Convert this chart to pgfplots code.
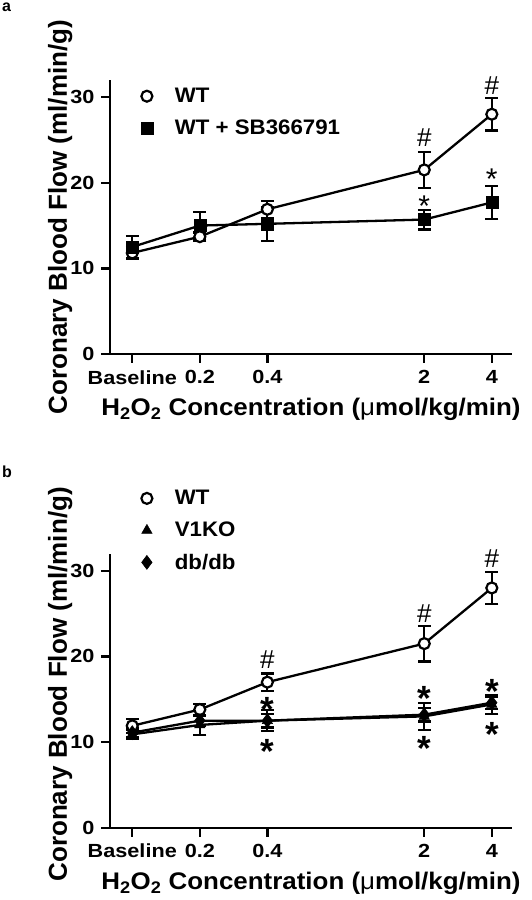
\documentclass[border=0pt]{standalone}
\usepackage{fontspec}
\setmainfont{Liberation Sans}
\newfontfamily\stretchA[FakeStretch=1.08]{Liberation Sans}
\newfontfamily\stretchB[FakeStretch=1.14]{Liberation Sans}
\newfontfamily\stretchC[FakeStretch=1.06]{Liberation Sans}
\usepackage{pgfplots}
\pgfplotsset{compat=1.18}
\pgfplotsset{
  legend image code/.code={\draw[#1] plot coordinates {(0pt,0pt)}; \path[draw=none, fill=none] (-8pt,-16pt) rectangle (28pt,16pt);},
  ser/.style={black, line width=2.3pt,
    error bars/y dir=both, error bars/y explicit,
    error bars/error bar style={line width=2.2pt, solid},
    error bars/error mark options={rotate=90, mark size=6.5pt, line width=2.2pt}},
  wt/.style={ser, mark=*, mark size=5.5pt, mark options={fill=white, draw=black, line width=2.2pt}},
  sq/.style={ser, mark=square*, mark size=6pt, mark options={fill=black, line width=0.5pt}},
  tri/.style={ser, mark=triangle*, mark size=6pt, mark options={fill=black, line width=0.5pt}},
  dia/.style={ser, mark=diamond*, mark size=7pt, mark options={fill=black, line width=0.5pt}},
  hash/.style={forget plot, only marks, mark=none, nodes near coords={\#},
    every node near coord/.append style={anchor=base, yshift=-9.3pt, inner sep=0pt,
      font=\fontsize{26}{26}\selectfont\mdseries}},
  stara/.style={forget plot, only marks, mark=none, nodes near coords={*},
    every node near coord/.append style={anchor=base, yshift=-17pt, inner sep=0pt,
      font=\fontsize{30}{30}\selectfont\mdseries}},
  starb/.style={forget plot, only marks, mark=none, nodes near coords={*},
    every node near coord/.append style={anchor=base, yshift=-20pt, inner sep=0pt,
      font=\fontsize{35}{35}\selectfont\bfseries}},
  panel/.style={
    scale only axis, width=402pt, height=274pt,
    xmin=0.0796, xmax=4.92, ymin=0, ymax=32,
    xtick={0.1,0.2,0.4,2,4}, xticklabels={Baseline,0.2,0.4,2,4},
    minor xtick={}, ytick={0,10,20,30},
    axis lines*=left, axis line style={line width=2.3pt},
    tick style={line width=2.3pt, black}, major tick length=9pt, tick align=outside,
    tick label style={font=\stretchB\fontsize{19}{20}\selectfont\bfseries},
    /pgf/number format/assume math mode=true,
    xticklabel style={yshift=-4pt},
    yticklabel style={xshift=-3pt},
    clip=false,
    xlabel={H\textsubscript{2}O\textsubscript{2} Concentration ({\mdseries μ}mol/kg/min)},
    ylabel={Coronary Blood Flow (ml/min/g)},
    every axis x label/.style={at={(axis description cs:0.5,-0.226)}, anchor=base,
      font=\stretchA\fontsize{24}{26}\selectfont\bfseries},
    every axis y label/.style={at={(axis description cs:-0.107,0.5)}, rotate=90, anchor=base,
      font=\fontsize{26}{28}\selectfont\bfseries},
    legend cell align=left,
    legend style={draw=none, fill=none, inner sep=0pt, row sep=0pt, column sep=0pt,
      font=\stretchC\fontsize{21}{23}\selectfont\bfseries, anchor=north west,
      nodes={inner sep=0pt}},
  },
}
\begin{document}
\begin{tikzpicture}
\useasboundingbox (0pt,0pt) rectangle (531pt,900pt);

% ---------- panel a ----------
\begin{semilogxaxis}[panel, at={(110pt,546pt)}, anchor=south west,
  legend style={at={(axis description cs:0.0714,1.0)}}]
\addplot[wt] coordinates {(0.1,11.8) +- (0,0.7) (0.2,13.7) +- (0,0.5) (0.4,16.9) +- (0,1.0) (2,21.5) +- (0,2.1) (4,28.0) +- (0,1.9)};
\addlegendentry{WT}
\addplot[sq] coordinates {(0.1,12.5) +- (0,1.3) (0.2,15.0) +- (0,1.6) (0.4,15.2) +- (0,2.0) (2,15.7) +- (0,1.15) (4,17.7) +- (0,1.9)};
\addlegendentry{WT + SB366791}
\addplot[hash] coordinates {(2,25.3) (4,31.4)};
\addplot[stara] coordinates {(2,18.0) (4,21.2)};
\end{semilogxaxis}

% ---------- panel b ----------
\begin{semilogxaxis}[panel, at={(110pt,72.3pt)}, anchor=south west,
  every axis y label/.append style={at={(axis description cs:-0.107,0.523)}},
  legend style={at={(axis description cs:0.0714,1.261)}}]
\addplot[wt] coordinates {(0.1,11.9) +- (0,0.8) (0.2,13.8) +- (0,0.6) (0.4,17.0) +- (0,1.0) (2,21.5) +- (0,2.1) (4,28.0) +- (0,1.9)};
\addlegendentry{WT}
\addplot[tri] coordinates {(0.1,10.9) +- (0,0.5) (0.2,12.0) +- (0,1.2) (0.4,12.5) +- (0,1.2) (2,13.0) +- (0,1.6) (4,14.4) +- (0,1.1)};
\addlegendentry{V1KO}
\addplot[dia] coordinates {(0.1,11.1) +- (0,0.5) (0.2,12.5) +- (0,0.6) (0.4,12.5) +- (0,0.8) (2,13.2) +- (0,0.8) (4,14.6) +- (0,0.7)};
\addlegendentry{db/db}
\addplot[hash] coordinates {(0.4,19.65) (2,25.1) (4,31.5)};
\addplot[starb] coordinates {(0.4,14.7) (0.4,9.85) (2,16.0) (2,10.2) (4,16.8) (4,11.8)};
\end{semilogxaxis}

\node[anchor=base west, font=\fontsize{16}{16}\selectfont\bfseries, inner sep=0pt] at (2pt,888pt) {a};
\node[anchor=base west, font=\fontsize{16}{16}\selectfont\bfseries, inner sep=0pt] at (2pt,422pt) {b};
\end{tikzpicture}
\end{document}
